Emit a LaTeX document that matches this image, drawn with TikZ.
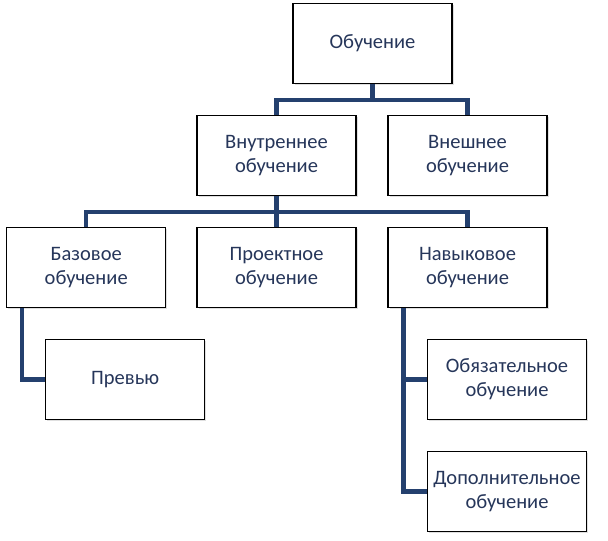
\documentclass[tikz,border=0pt]{standalone}
\usepackage{fontspec}
\setmainfont{Carlito}
\usetikzlibrary{shadows}

\definecolor{linea}{RGB}{36,64,110}
\definecolor{testo}{RGB}{38,54,90}

\tikzstyle{blocco} = [rectangle, draw=black, line width=1.4pt, fill=white, minimum width=159pt, minimum height=80pt, inner sep=0pt, align=center, text=testo, font=\fontsize{20.5}{24}\selectfont, drop shadow={shadow xshift=1.5pt, shadow yshift=-1.5pt, opacity=0.25}]
\tikzstyle{ramo} = [draw=linea, line width=4.5pt, line join=miter]

\begin{document}
\begin{tikzpicture}[x=1pt, y=-1pt]

    \useasboundingbox (0,0) rectangle (608,541);

    % Blocchi
    \node[blocco] (obuch) at (372.5,43.5) {Обучение};
    \node[blocco] (vnutr) at (276.5,155.5) {Внутреннее\\обучение};
    \node[blocco] (vnesh) at (467.5,155.5) {Внешнее\\обучение};
    \node[blocco] (baz) at (86.2,267.5) {Базовое\\обучение};
    \node[blocco] (proekt) at (276.5,267.5) {Проектное\\обучение};
    \node[blocco] (navyk) at (467.5,267.5) {Навыковое\\обучение};
    \node[blocco] (prev) at (125.2,379.5) {Превью};
    \node[blocco] (obyaz) at (507,379.5) {Обязательное\\обучение};
    \node[blocco] (dop) at (507,491.7) {Дополнительное\\обучение};

    % Rami
    \draw[ramo] (obuch.south) -- ++(0,16) -| (vnutr.north);
    \draw[ramo] (obuch.south) -- ++(0,16) -| (vnesh.north);
    \draw[ramo] (vnutr.south) -- ++(0,16) -| (baz.north);
    \draw[ramo] (vnutr.south) -- (proekt.north);
    \draw[ramo] (vnutr.south) -- ++(0,16) -| (navyk.north);
    \draw[ramo] ([xshift=16pt]baz.south west) |- (prev.west);
    \draw[ramo] ([xshift=16pt]navyk.south west) |- (obyaz.west);
    \draw[ramo] ([xshift=16pt]navyk.south west) |- (dop.west);

\end{tikzpicture}
\end{document}
